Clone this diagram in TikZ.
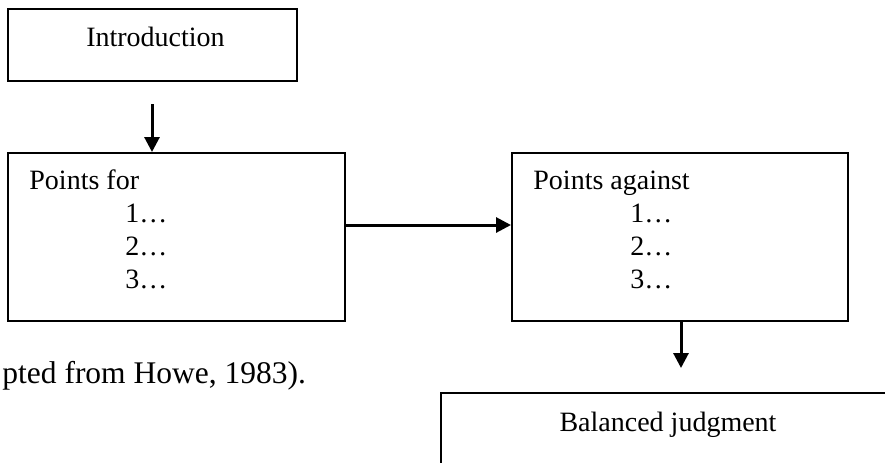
\documentclass[tikz,border=0pt]{standalone}
\usepackage{fontspec}
\setmainfont{Liberation Serif}
\usetikzlibrary{arrows.meta,fit}

\begin{document}
\begin{tikzpicture}[x=0.5pt, y=-0.5pt,
  box/.style={draw, line width=1pt, rectangle, inner sep=0pt},
  arr/.style={line width=1.5pt, -{Triangle[length=7.5pt, width=7.5pt]}},
  txt/.style={inner sep=0pt, font=\fontsize{14}{16.5}\selectfont},
  captxt/.style={inner sep=0pt, font=\fontsize{15.75}{18}\selectfont}]

  \useasboundingbox (0,0) rectangle (885,462);
  \clip (0,0) rectangle (885,462);

  % boxes
  \node[box, fit={(8,9) (297,81)}] (intro) {};
  \node[box, fit={(8,153) (345,321)}] (pfor) {};
  \node[box, fit={(512,153) (848,321)}] (pagainst) {};
  \node[box, fit={(441,393) (910,500)}] (judg) {};

  % texts
  \node[txt, anchor=base] (introtxt) at (155.5,46) {Introduction};

  \node[txt, anchor=base west] (pfortxt) at (29,189) {Points for};
  \foreach \n in {1,2,3}
    \node[txt, anchor=base west] (pfor\n) at (125,189+33*\n) {\n…};

  \node[txt, anchor=base west] (pagainsttxt) at (533,189) {Points against};
  \foreach \n in {1,2,3}
    \node[txt, anchor=base west] (pagainst\n) at (630,189+33*\n) {\n…};

  \node[txt, anchor=base] (judgtxt) at (668,431) {Balanced judgment};

  \node[captxt, anchor=base west] (howe) at (2,383) {pted from Howe, 1983).};

  % arrows
  \coordinate (introtail) at (152,104);
  \coordinate (hmid) at (0,225);
  \coordinate (judgtip) at (681,368);

  \draw[arr] (introtail) -- (introtail |- pfor.north);
  \draw[arr] (pfor.east |- hmid) -- (pagainst.west |- hmid);
  \draw[arr] (judgtip |- pagainst.south) -- (judgtip);

\end{tikzpicture}
\end{document}
